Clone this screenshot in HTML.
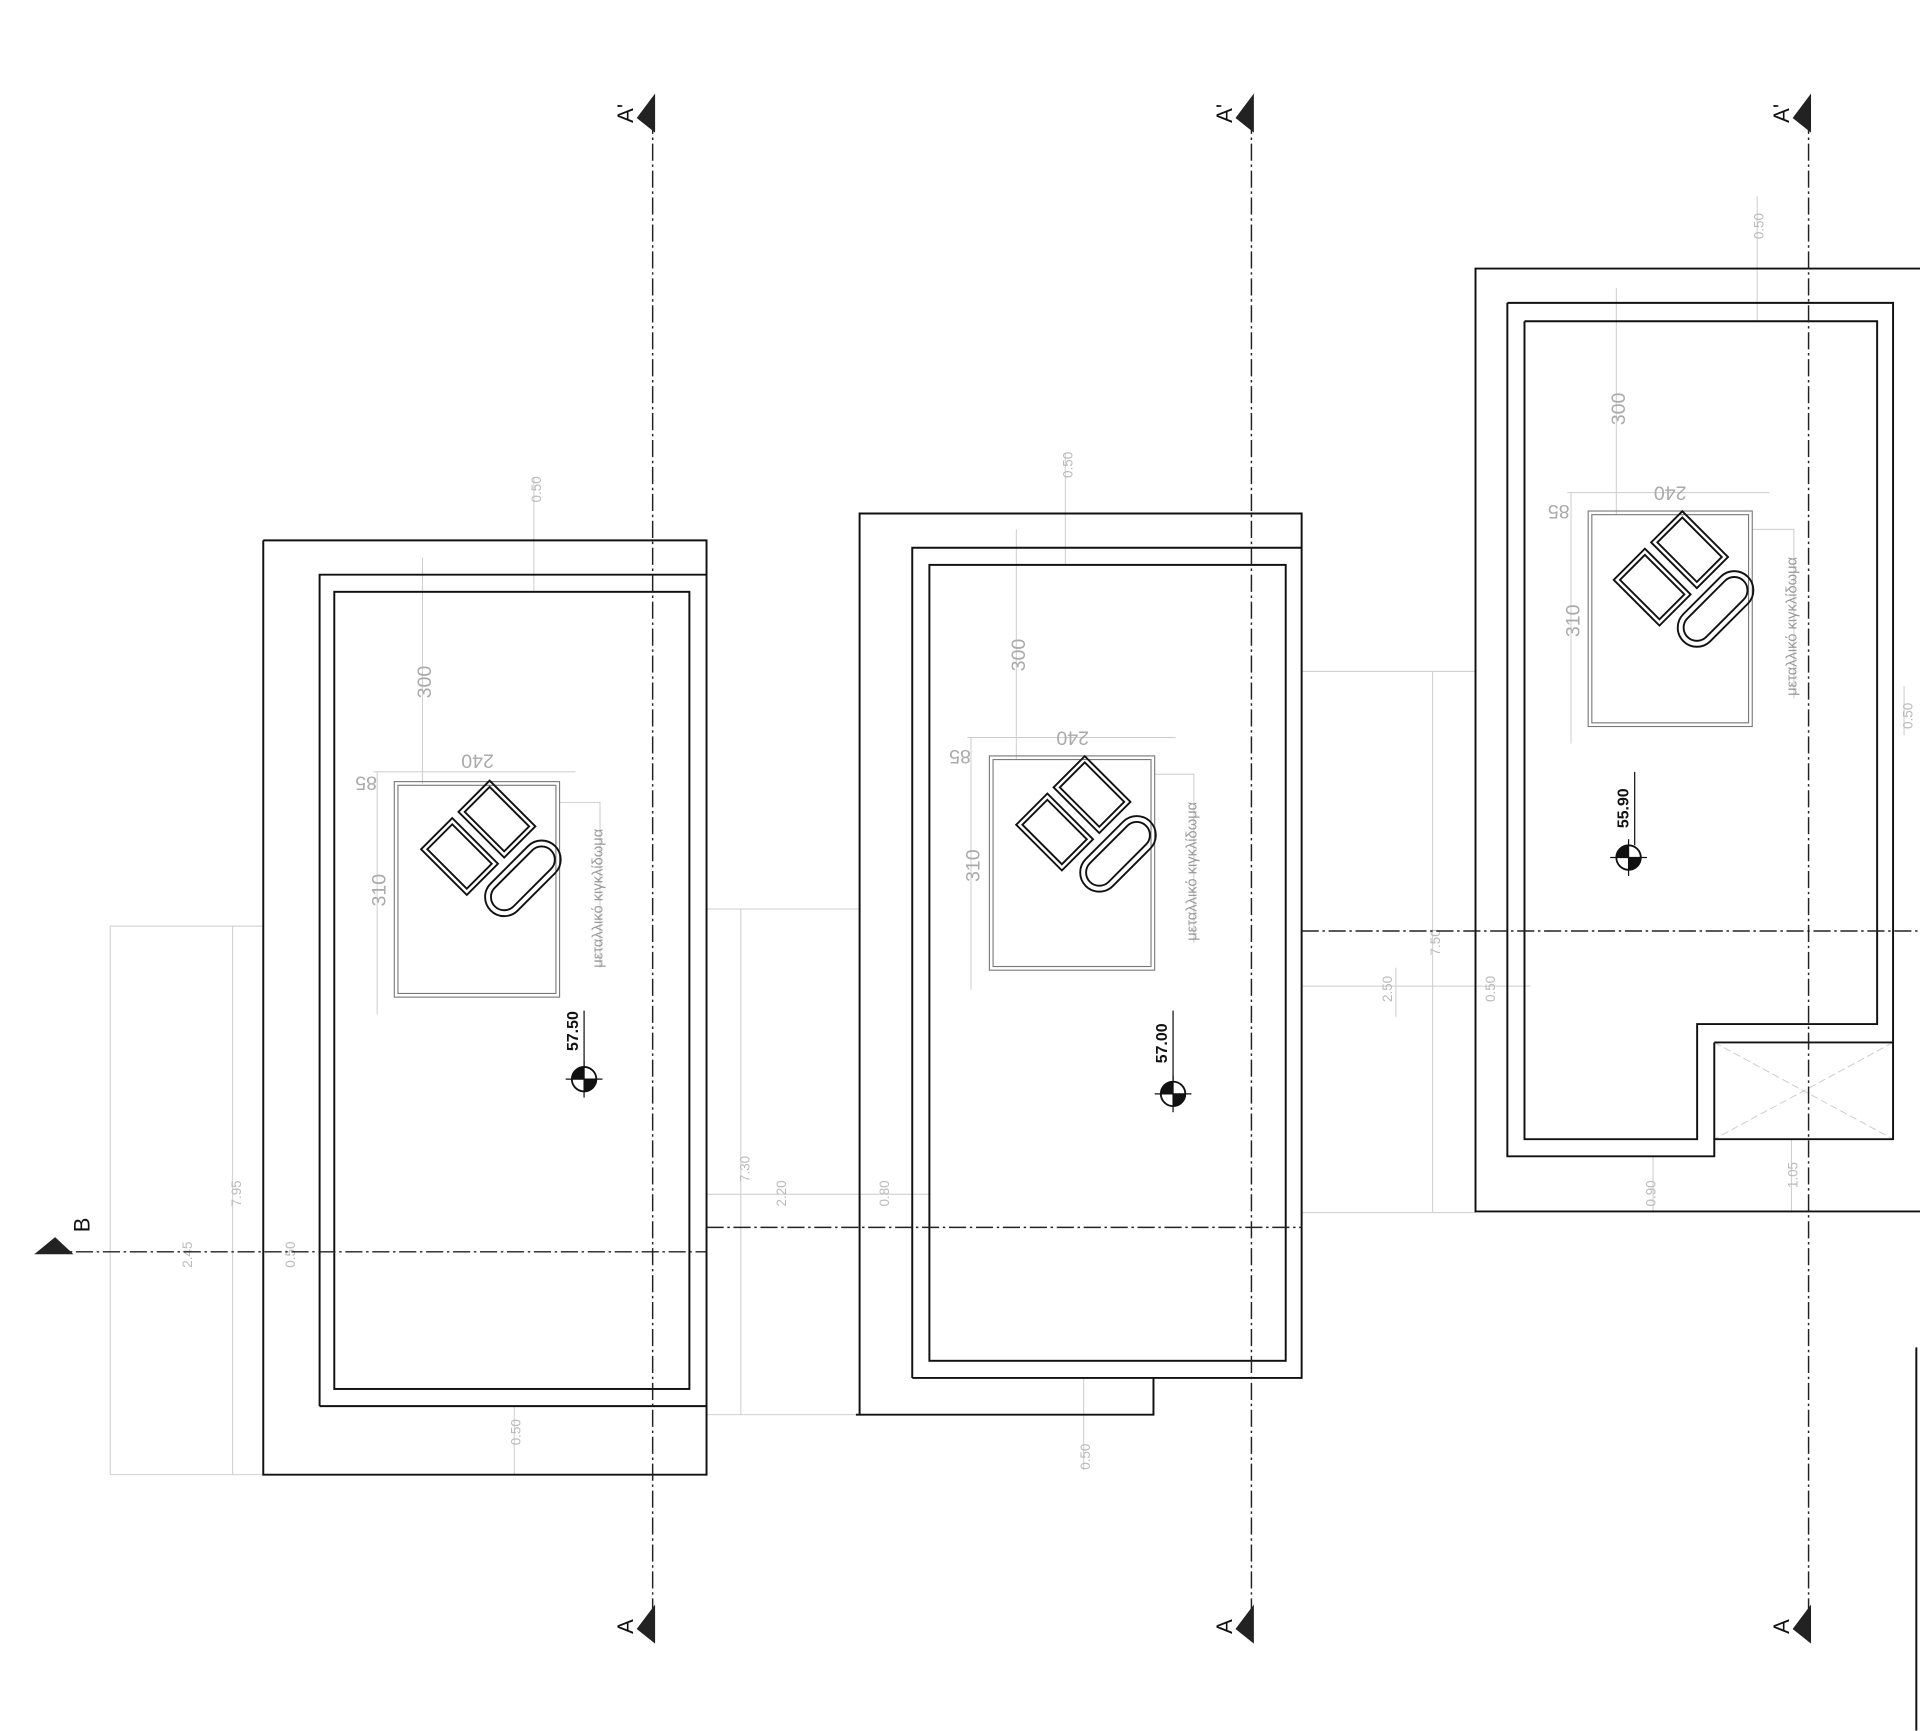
<!DOCTYPE html>
<html><head><meta charset="utf-8"><style>
html,body{margin:0;padding:0;background:#fff}
svg{display:block}
text{font-family:"Liberation Sans",sans-serif}
</style></head><body>
<svg width="1920" height="1731" viewBox="0 0 1568 1413" xmlns="http://www.w3.org/2000/svg">
<rect width="1568" height="1413" fill="#fff"/>
<g fill="none" stroke="#ccc" stroke-width="0.8">
<polyline points="215,756 90,756 90,1204 215,1204"/>
<line x1="190" y1="756" x2="190" y2="1204"/>
<line x1="577" y1="742" x2="702" y2="742"/>
<line x1="605" y1="742" x2="605" y2="1155"/>
<line x1="577" y1="1155" x2="702" y2="1155"/>
<line x1="577" y1="975" x2="760" y2="975"/>
<line x1="436" y1="390" x2="436" y2="483"/>
<line x1="420" y1="1148" x2="420" y2="1204"/>
<line x1="345" y1="455" x2="345" y2="640"/>
<line x1="305" y1="630" x2="470" y2="630"/>
<line x1="308" y1="630" x2="308" y2="828"/>
<polyline points="457,655 490,655 490,790"/>
<line x1="870" y1="370" x2="870" y2="461"/>
<line x1="885" y1="1125" x2="885" y2="1200"/>
<line x1="830" y1="432" x2="830" y2="620"/>
<line x1="790" y1="602" x2="960" y2="602"/>
<line x1="793" y1="602" x2="793" y2="808"/>
<polyline points="943,632 975,632 975,770"/>
<line x1="1063" y1="548" x2="1205" y2="548"/>
<line x1="1170" y1="548" x2="1170" y2="990"/>
<line x1="1063" y1="990" x2="1205" y2="990"/>
<line x1="1063" y1="805" x2="1250" y2="805"/>
<line x1="1140" y1="790" x2="1140" y2="830"/>
<line x1="1435" y1="160" x2="1435" y2="262"/>
<line x1="1320" y1="235" x2="1320" y2="420"/>
<line x1="1280" y1="402" x2="1445" y2="402"/>
<line x1="1283" y1="402" x2="1283" y2="607"/>
<polyline points="1431,432 1465,432 1465,570"/>
<line x1="1350" y1="944" x2="1350" y2="990"/>
<line x1="1463" y1="930" x2="1463" y2="990"/>
<line x1="1400" y1="851" x2="1546" y2="930" stroke-dasharray="6,3"/>
<line x1="1546" y1="851" x2="1400" y2="930" stroke-dasharray="6,3"/>
<line x1="1555" y1="560" x2="1555" y2="600"/>
</g>
<g fill="#bbb" font-size="11">
<text transform="translate(197,985) rotate(-90)">7.95</text>
<text transform="translate(157,1035) rotate(-90)">2.45</text>
<text transform="translate(241,1035) rotate(-90)">0.50</text>
<text transform="translate(442,410) rotate(-90)">0.50</text>
<text transform="translate(612,965) rotate(-90)">7.30</text>
<text transform="translate(642,985) rotate(-90)">2.20</text>
<text transform="translate(726,985) rotate(-90)">0.80</text>
<text transform="translate(425,1180) rotate(-90)">0.50</text>
<text transform="translate(876,390) rotate(-90)">0.50</text>
<text transform="translate(890,1200) rotate(-90)">0.50</text>
<text transform="translate(1176,780) rotate(-90)">7.50</text>
<text transform="translate(1137,818) rotate(-90)">2.50</text>
<text transform="translate(1221,818) rotate(-90)">0.50</text>
<text transform="translate(1440,195) rotate(-90)">0.50</text>
<text transform="translate(1352,985) rotate(-90)">0.90</text>
<text transform="translate(1468,970) rotate(-90)">1.05</text>
<text transform="translate(1562,595) rotate(-90)">0.50</text>
</g>
<g fill="#aaa" font-size="16">
<text transform="translate(352,570) rotate(-90)">300</text>
<text transform="translate(315,740) rotate(-90)">310</text>
<text transform="translate(390,616) rotate(180)" text-anchor="middle">240</text>
<text transform="translate(299,634) rotate(180)" text-anchor="middle">85</text>
<text transform="translate(837,548) rotate(-90)">300</text>
<text transform="translate(800,720) rotate(-90)">310</text>
<text transform="translate(876,597) rotate(180)" text-anchor="middle">240</text>
<text transform="translate(784,612) rotate(180)" text-anchor="middle">85</text>
<text transform="translate(1327,347) rotate(-90)">300</text>
<text transform="translate(1290,520) rotate(-90)">310</text>
<text transform="translate(1364,397) rotate(180)" text-anchor="middle">240</text>
<text transform="translate(1273,412) rotate(180)" text-anchor="middle">85</text>
</g>
<g fill="#999" font-size="12">
<text transform="translate(492,790) rotate(-90)">μεταλλικό κιγκλίδωμα</text>
<text transform="translate(977,768) rotate(-90)">μεταλλικό κιγκλίδωμα</text>
<text transform="translate(1467,568) rotate(-90)">μεταλλικό κιγκλίδωμα</text>
</g>
<g fill="none" stroke="#111" stroke-width="1.6">
<polyline points="215,441 577,441 577,1204 215,1204 215,441"/>
<polyline points="261,1148 261,469 577,469"/>
<line x1="261" y1="1148" x2="577" y2="1148"/>
<rect x="273" y="483" width="290" height="651"/>
<polyline points="702,1155 702,419 1063,419 1063,1125 942,1125 942,1155 699,1155"/>
<polyline points="745,1125 745,447 1063,447"/>
<line x1="745" y1="1125" x2="942" y2="1125"/>
<rect x="759" y="461" width="291" height="650"/>
<polyline points="1568,219 1205,219 1205,989 1568,989"/>
<polyline points="1231,247 1546,247 1546,930 1400,930 1400,944 1231,944 1231,247"/>
<line x1="1400" y1="851" x2="1546" y2="851"/>
<line x1="1400" y1="851" x2="1400" y2="930"/>
<polyline points="1245,262 1533,262 1533,836 1386,836 1386,930 1245,930 1245,262"/>
<line x1="1565" y1="1100" x2="1565" y2="1413"/>
</g>
<g fill="none" stroke="#777" stroke-width="0.9">
<rect x="322" y="638" width="135" height="176"/><rect x="325" y="641" width="129" height="170"/>
<rect x="808" y="617" width="135" height="175"/><rect x="811" y="620" width="129" height="169"/>
<rect x="1297" y="417" width="134" height="176"/><rect x="1300" y="420" width="128" height="170"/>
</g>
<defs>
<g id="furn" fill="none" stroke="#111" stroke-width="1.3">
<rect x="-22" y="-30" width="30" height="44" transform="rotate(-45)"/>
<rect x="-19" y="-27" width="24" height="38" transform="rotate(-45)"/>
<rect x="14" y="-30" width="30" height="44" transform="rotate(-45)"/>
<rect x="17" y="-27" width="24" height="38" transform="rotate(-45)"/>
<rect x="-18" y="20" width="62" height="26" rx="13" transform="rotate(-45)"/>
<rect x="-14" y="24" width="54" height="18" rx="9" transform="rotate(-45)"/>
</g>
<g id="lvl">
<circle r="10" fill="#fff" stroke="#111" stroke-width="1.5"/>
<path d="M0,0 L0,-10 A10,10 0 0,0 -10,0 Z M0,0 L0,10 A10,10 0 0,0 10,0 Z" fill="#111"/>
<line x1="-15" y1="0" x2="15" y2="0" stroke="#111"/>
<line x1="0" y1="-15" x2="0" y2="15" stroke="#111"/>
</g>
</defs>
<use href="#furn" transform="translate(388,700) scale(1.2)"/>
<use href="#furn" transform="translate(874,680) scale(1.2)"/>
<use href="#furn" transform="translate(1362,480) scale(1.2)"/>
<use href="#lvl" transform="translate(477,881)"/>
<line x1="477" y1="825" x2="477" y2="870" stroke="#111"/>
<text transform="translate(472,858) rotate(-90)" font-size="13" font-weight="bold" fill="#111">57.50</text>
<use href="#lvl" transform="translate(958,893)"/>
<line x1="958" y1="825" x2="958" y2="882" stroke="#111"/>
<text transform="translate(953,868) rotate(-90)" font-size="13" font-weight="bold" fill="#111">57.00</text>
<use href="#lvl" transform="translate(1330,700)"/>
<line x1="1335" y1="630" x2="1335" y2="690" stroke="#111"/>
<text transform="translate(1330,676) rotate(-90)" font-size="13" font-weight="bold" fill="#111">55.90</text>
<g stroke="#222" stroke-width="1.2" stroke-dasharray="14,3,2,3" fill="none">
<line x1="533" y1="95" x2="533" y2="1340"/>
<line x1="1022" y1="95" x2="1022" y2="1340"/>
<line x1="1477" y1="95" x2="1477" y2="1340"/>
<line x1="40" y1="1022" x2="577" y2="1022"/>
<line x1="577" y1="1002" x2="1063" y2="1002"/>
<line x1="1063" y1="760" x2="1568" y2="760"/>
</g>
<g>
<path d="M535,76 L535,108 L520,96 Z" fill="#222"/>
<path d="M1024,76 L1024,108 L1009,96 Z" fill="#222"/>
<path d="M1479,76 L1479,108 L1464,96 Z" fill="#222"/>
<path d="M535,1310 L535,1342 L520,1330 Z" fill="#222"/>
<path d="M1024,1310 L1024,1342 L1009,1330 Z" fill="#222"/>
<path d="M1479,1310 L1479,1342 L1464,1330 Z" fill="#222"/>
<path d="M28,1024 L60,1024 L45,1010 Z" fill="#222"/>
</g>
<g font-size="18" fill="#111">
<text transform="translate(517,100) rotate(-90)">A'</text>
<text transform="translate(1006,100) rotate(-90)">A'</text>
<text transform="translate(1461,100) rotate(-90)">A'</text>
<text transform="translate(517,1334) rotate(-90)">A</text>
<text transform="translate(1006,1334) rotate(-90)">A</text>
<text transform="translate(1461,1334) rotate(-90)">A</text>
<text transform="translate(73,1006) rotate(-90)">B</text>
</g>
</svg>
</body></html>
